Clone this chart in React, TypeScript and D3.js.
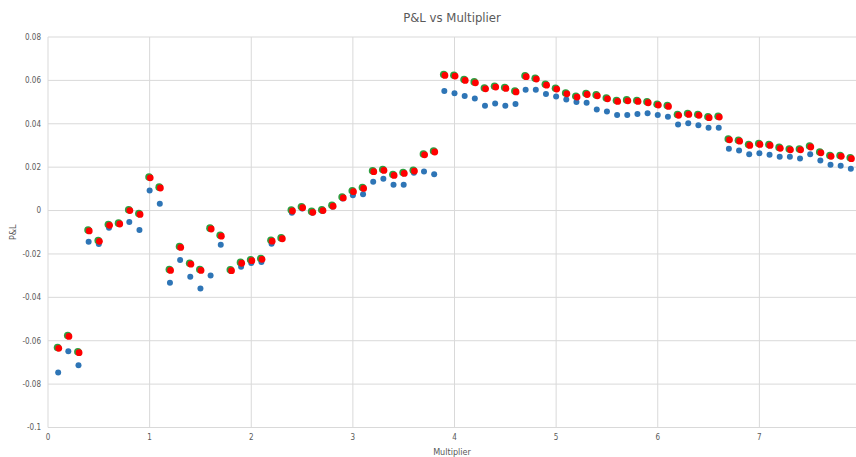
import React from "react";
import * as d3 from "d3";

const multipliers = [
  0.1, 0.2, 0.3, 0.4, 0.5, 0.6, 0.7, 0.8, 0.9, 1.0,
  1.1, 1.2, 1.3, 1.4, 1.5, 1.6, 1.7, 1.8, 1.9, 2.0,
  2.1, 2.2, 2.3, 2.4, 2.5, 2.6, 2.7, 2.8, 2.9, 3.0,
  3.1, 3.2, 3.3, 3.4, 3.5, 3.6, 3.7, 3.8, 3.9, 4.0,
  4.1, 4.2, 4.3, 4.4, 4.5, 4.6, 4.7, 4.8, 4.9, 5.0,
  5.1, 5.2, 5.3, 5.4, 5.5, 5.6, 5.7, 5.8, 5.9, 6.0,
  6.1, 6.2, 6.3, 6.4, 6.5, 6.6, 6.7, 6.8, 6.9, 7.0,
  7.1, 7.2, 7.3, 7.4, 7.5, 7.6, 7.7, 7.8, 7.9,
];

const bluePL = [
  -0.0746, -0.0649, -0.0713, -0.0144, -0.0154, -0.0079, -0.006, -0.0053, -0.009, 0.0093,
  0.0031, -0.0333, -0.0228, -0.0305, -0.0359, -0.0299, -0.0158, -0.0279, -0.0259, -0.0242,
  -0.0237, -0.0153, -0.0127, -0.001, 0.001, -0.001, -0.0002, 0.0018, 0.0055, 0.007,
  0.0075, 0.0133, 0.0147, 0.0119, 0.0119, 0.0174, 0.018, 0.0167, 0.0551, 0.0541,
  0.0528, 0.0517, 0.0483, 0.0494, 0.0483, 0.0491, 0.0557, 0.0557, 0.0537, 0.0526,
  0.0512, 0.05, 0.0497, 0.0466, 0.0457, 0.044, 0.044, 0.0445, 0.0448, 0.044,
  0.0432, 0.0397, 0.0403, 0.0393, 0.0382, 0.0382, 0.0285, 0.0277, 0.026, 0.0264,
  0.0257, 0.0248, 0.0248, 0.024, 0.026, 0.0231, 0.0211, 0.0206, 0.0193,
];

const redPL = [
  -0.0635, -0.058, -0.0655, -0.0094, -0.0142, -0.0068, -0.0062, 0.0, -0.0018, 0.0151,
  0.0104, -0.0276, -0.017, -0.0247, -0.0276, -0.0085, -0.0118, -0.0277, -0.0243, -0.0231,
  -0.0225, -0.0141, -0.013, -0.0002, 0.0013, -0.0008, 0.0, 0.002, 0.0058, 0.0087,
  0.0102, 0.0179, 0.0185, 0.0162, 0.0171, 0.0182, 0.0257, 0.027, 0.0623, 0.062,
  0.06, 0.0589, 0.0561, 0.0569, 0.0563, 0.0547, 0.0617, 0.0606, 0.0578, 0.056,
  0.0538, 0.0523, 0.0535, 0.0529, 0.0515, 0.0503, 0.0506, 0.0503, 0.0497, 0.0486,
  0.048, 0.0439, 0.0443, 0.0439, 0.0428, 0.0431, 0.0326, 0.032, 0.03, 0.0305,
  0.03, 0.0287, 0.028, 0.028, 0.0293, 0.0266, 0.025, 0.025, 0.0239,
];

// green series sits a hair above the red one
const greenPL = [
  -0.0631, -0.0576, -0.0651, -0.009, -0.0138, -0.0064, -0.0058, 0.0004, -0.0014, 0.0155,
  0.0108, -0.0272, -0.0166, -0.0243, -0.0272, -0.0081, -0.0114, -0.0273, -0.0239, -0.0227,
  -0.0221, -0.0137, -0.0126, 0.0002, 0.0017, -0.0004, 0.0004, 0.0024, 0.0062, 0.0091,
  0.0106, 0.0183, 0.0189, 0.0166, 0.0175, 0.0186, 0.0261, 0.0274, 0.0627, 0.0624,
  0.0604, 0.0593, 0.0565, 0.0573, 0.0567, 0.0551, 0.0621, 0.061, 0.0582, 0.0564,
  0.0542, 0.0527, 0.0539, 0.0533, 0.0519, 0.0507, 0.051, 0.0507, 0.0501, 0.049,
  0.0484, 0.0443, 0.0447, 0.0443, 0.0432, 0.0435, 0.033, 0.0324, 0.0304, 0.0309,
  0.0304, 0.0291, 0.0284, 0.0284, 0.0297, 0.027, 0.0254, 0.0254, 0.0243,
];

const xTicks = [0, 1, 2, 3, 4, 5, 6, 7];
const yTicks = [0.08, 0.06, 0.04, 0.02, 0, -0.02, -0.04, -0.06, -0.08, -0.1];

const W = 856;
const H = 457;
const font = "'Liberation Sans Narrow', 'DejaVu Sans Condensed', 'Liberation Sans', sans-serif";

export default function App() {
  const x = d3.scaleLinear().domain([0, 8]).range([48, 861]);
  const y = d3.scaleLinear().domain([-0.1, 0.08]).range([427.5, 37]);
  const fmt = (v: number) => (v === 0 ? "0" : String(+v.toFixed(2)));

  return (
    <svg
      width={W}
      height={H}
      style={{ position: "absolute", left: 0, top: 0, background: "#fff" }}
      fontFamily={font}
    >
      <rect x={0} y={0} width={W} height={H} fill="#fff" />
      {/* grid */}
      {yTicks.map((t) => (
        <line key={"gy" + t} x1={48} x2={W} y1={y(t)} y2={y(t)} stroke="#d9d9d9" strokeWidth={1} />
      ))}
      {xTicks.map((t) => (
        <line key={"gx" + t} x1={x(t)} x2={x(t)} y1={y(0.08)} y2={y(-0.1)} stroke="#d9d9d9" strokeWidth={1} />
      ))}
      {/* y tick labels */}
      {yTicks.map((t) => (
        <text key={"ty" + t} x={41} y={y(t)} dy="0.35em" textAnchor="end" fontSize={8} fill="#595959">
          {fmt(t)}
        </text>
      ))}
      {/* x tick labels */}
      {xTicks.map((t) => (
        <text key={"tx" + t} x={x(t)} y={440} textAnchor="middle" fontSize={8} fill="#595959">
          {t}
        </text>
      ))}
      {/* title and axis titles */}
      <text x={452} y={22} textAnchor="middle" fontSize={13} fill="#595959">
        P&amp;L vs Multiplier
      </text>
      <text x={452} y={455} textAnchor="middle" fontSize={9} fill="#595959">
        Multiplier
      </text>
      <text
        transform={`translate(16, ${y(-0.01)}) rotate(-90)`}
        textAnchor="middle"
        fontSize={9}
        fill="#595959"
      >
        P&amp;L
      </text>
      {/* series */}
      <g>
        {multipliers.map((m, i) => (
          <circle key={"b" + i} cx={x(m)} cy={y(bluePL[i])} r={3} fill="#2e75b6" />
        ))}
      </g>
      <g transform="translate(-0.6,0)">
        {multipliers.map((m, i) => (
          <circle key={"g" + i} cx={x(m)} cy={y(greenPL[i])} r={3.8} fill="#2f9e3f" />
        ))}
      </g>
      <g transform="translate(0.6,0)">
        {multipliers.map((m, i) => (
          <circle key={"r" + i} cx={x(m)} cy={y(redPL[i])} r={3.4} fill="#ff0000" />
        ))}
      </g>
    </svg>
  );
}
